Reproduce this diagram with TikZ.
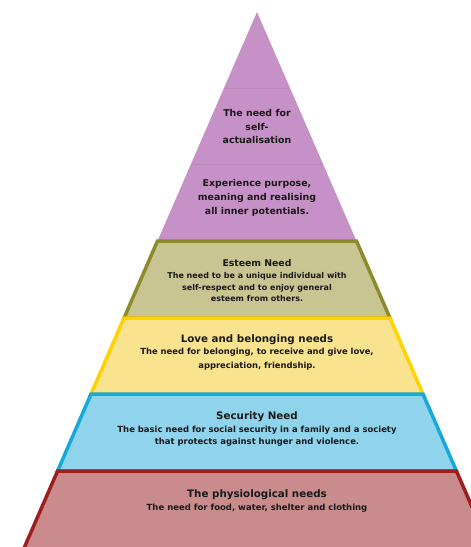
\documentclass[tikz,border=0pt]{standalone}
\usepackage{fontspec}
\setmainfont{DejaVu Sans}

\definecolor{fillpeak}{RGB}{198,145,198}
\definecolor{linepeak}{RGB}{189,135,189}
\definecolor{fillesteem}{RGB}{201,197,146}
\definecolor{lineesteem}{RGB}{139,139,44}
\definecolor{filllove}{RGB}{249,227,143}
\definecolor{linelove}{RGB}{255,210,0}
\definecolor{fillsafety}{RGB}{143,212,236}
\definecolor{linesafety}{RGB}{22,169,220}
\definecolor{fillphysio}{RGB}{201,139,139}
\definecolor{linephysio}{RGB}{156,31,31}
\definecolor{inktext}{RGB}{25,25,25}

\newcommand{\fsz}[2]{\fontsize{#1}{#2}\selectfont}

\tikzset{
	band/.style={line width=3.5pt},
	bandtext/.style={align=center, text=inktext, inner sep=0pt, font=\bfseries},
}

\begin{document}
\begin{tikzpicture}[x=1pt, y=-1pt]

	\useasboundingbox (0,0) rectangle (471,547);
	\node (apex) at (257,12) {};

	\begin{scope}
	\clip (0,0) rectangle (471,547);

	% top of the pyramid
	\fill[fillpeak] (apex.center) -- ({257+0.4345*229},241) -- ({257-0.4345*229},241) -- cycle;
	\foreach \y in {88,164}
	{
		\draw[linepeak, line width=0.6pt] ({257-0.4345*(\y-12)},\y) -- ({257+0.4345*(\y-12)},\y);
	};

	% the four lower bands
	\foreach \ytop/\ybot/\band in {
	241/318/esteem,
	318/394/love,
	394/471/safety,
	471/565/physio}
	{
		\pgfmathsetmacro{\wtop}{0.4345*(\ytop-12)}
		\pgfmathsetmacro{\wbot}{0.4345*(\ybot-12)}
		\filldraw[band, fill=fill\band, draw=line\band]
			(257-\wtop,\ytop) -- (257+\wtop,\ytop) -- (257+\wbot,\ybot) -- (257-\wbot,\ybot) -- cycle;
	};
	\end{scope}

	\node[bandtext, font=\bfseries\fsz{9.4}{13.5}] (selfact) at (257,126.5)
		{The need for\\self-\\actualisation};
	\node[bandtext, font=\bfseries\fsz{9.4}{14}] (purpose) at (257,198)
		{Experience purpose,\\meaning and realising\\all inner potentials.};

	\node[bandtext, font=\bfseries\fsz{9.3}{12}] (esteemtitle) at (257,263) {Esteem Need};
	\node[bandtext, font=\bfseries\fsz{8}{11.5}] (esteembody) at (257,287.5)
		{The need to be a unique individual with\\self-respect and to enjoy general\\esteem from others.};

	\node[bandtext, font=\bfseries\fsz{10.3}{13}] (lovetitle) at (257,340) {Love and belonging needs};
	\node[bandtext, font=\bfseries\fsz{8.4}{13.5}] (lovebody) at (257,359)
		{The need for belonging, to receive and give love,\\appreciation, friendship.};

	\node[bandtext, font=\bfseries\fsz{10.3}{13}] (safetytitle) at (257,417) {Security Need};
	\node[bandtext, font=\bfseries\fsz{8.45}{12}] (safetybody) at (257,436)
		{The basic need for social security in a family and a society\\that protects against hunger and violence.};

	\node[bandtext, font=\bfseries\fsz{10.3}{13}] (physiotitle) at (257,495) {The physiological needs};
	\node[bandtext, font=\bfseries\fsz{8.5}{12}] (physiobody) at (257,508)
		{The need for food, water, shelter and clothing};

\end{tikzpicture}
\end{document}
